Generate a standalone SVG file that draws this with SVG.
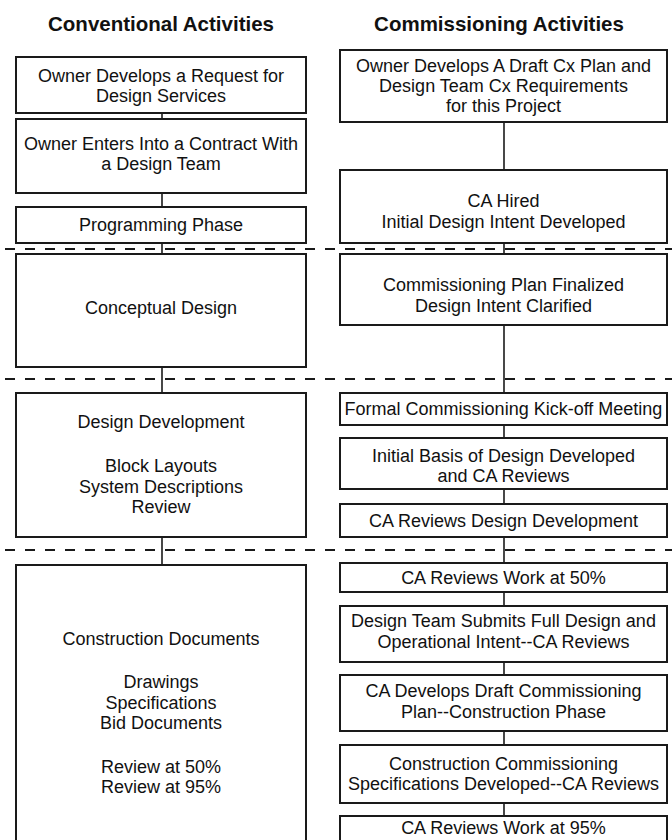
<svg xmlns="http://www.w3.org/2000/svg" width="672" height="840" viewBox="0 0 672 840">
<style>
  .bg{fill:#ffffff}
  rect.box{fill:#ffffff;stroke:#1a1a1a;stroke-width:2}
  text{font-family:"Liberation Sans",Arial,Helvetica,sans-serif;font-size:18px;fill:#111;text-anchor:middle}
  text.head{font-weight:bold;font-size:20.5px}
  .conn line{stroke:#1a1a1a;stroke-width:1.6}
  .dash line{stroke:#1a1a1a;stroke-width:2;stroke-dasharray:10 10}
</style>
<rect class="bg" x="0" y="0" width="672" height="840"/>

<g id="headers">
  <text class="head" x="161" y="31">Conventional Activities</text>
  <text class="head" x="499" y="31">Commissioning Activities</text>
</g>

<g id="phase-dividers" class="dash">
  <line x1="5" y1="249" x2="672" y2="249"/>
  <line x1="5" y1="379" x2="672" y2="379"/>
  <line x1="5" y1="550" x2="672" y2="550"/>
</g>

<g id="connectors" class="conn">
  <line x1="162" y1="113" x2="162" y2="119"/>
  <line x1="162" y1="193" x2="162" y2="207"/>
  <line x1="162" y1="243" x2="162" y2="254"/>
  <line x1="162" y1="367" x2="162" y2="393"/>
  <line x1="162" y1="537" x2="162" y2="565"/>
  <line x1="504" y1="122" x2="504" y2="170"/>
  <line x1="504" y1="243" x2="504" y2="254"/>
  <line x1="504" y1="325" x2="504" y2="393"/>
  <line x1="504" y1="425" x2="504" y2="438"/>
  <line x1="504" y1="489" x2="504" y2="504"/>
  <line x1="504" y1="537" x2="504" y2="563"/>
  <line x1="504" y1="592" x2="504" y2="606"/>
  <line x1="504" y1="662" x2="504" y2="675"/>
  <line x1="504" y1="731" x2="504" y2="745"/>
  <line x1="504" y1="803" x2="504" y2="816"/>
</g>

<!-- Conventional column -->
<g id="conv-rfp">
  <rect class="box" x="16" y="57" width="290" height="56"/>
  <text x="161" y="82">Owner Develops a Request for</text>
  <text x="161" y="102">Design Services</text>
</g>
<g id="conv-contract">
  <rect class="box" x="16" y="119" width="290" height="74"/>
  <text x="161" y="150">Owner Enters Into a Contract With</text>
  <text x="161" y="170">a Design Team</text>
</g>
<g id="conv-programming">
  <rect class="box" x="16" y="207" width="290" height="36"/>
  <text x="161" y="231">Programming Phase</text>
</g>
<g id="conv-conceptual">
  <rect class="box" x="16" y="254" width="290" height="113"/>
  <text x="161" y="314">Conceptual Design</text>
</g>
<g id="conv-dd">
  <rect class="box" x="16" y="393" width="290" height="144"/>
  <text x="161" y="428">Design Development</text>
  <text x="161" y="472">Block Layouts</text>
  <text x="161" y="492.5">System Descriptions</text>
  <text x="161" y="513">Review</text>
</g>
<g id="conv-cd">
  <rect class="box" x="16" y="565" width="290" height="290"/>
  <text x="161" y="645">Construction Documents</text>
  <text x="161" y="688">Drawings</text>
  <text x="161" y="708.5">Specifications</text>
  <text x="161" y="729">Bid Documents</text>
  <text x="161" y="772.5">Review at 50%</text>
  <text x="161" y="793">Review at 95%</text>
</g>

<!-- Commissioning column -->
<g id="cx-draft-plan">
  <rect class="box" x="340" y="50" width="327" height="72"/>
  <text x="503.5" y="72">Owner Develops A Draft Cx Plan and</text>
  <text x="503.5" y="92">Design Team Cx Requirements</text>
  <text x="503.5" y="111.5">for this Project</text>
</g>
<g id="cx-ca-hired">
  <rect class="box" x="340" y="170" width="327" height="73"/>
  <text x="503.5" y="207">CA Hired</text>
  <text x="503.5" y="228">Initial Design Intent Developed</text>
</g>
<g id="cx-plan-finalized">
  <rect class="box" x="340" y="254" width="327" height="71"/>
  <text x="503.5" y="291">Commissioning Plan Finalized</text>
  <text x="503.5" y="312">Design Intent Clarified</text>
</g>
<g id="cx-kickoff">
  <rect class="box" x="340" y="393" width="327" height="32"/>
  <text x="503.5" y="415">Formal Commissioning Kick-off Meeting</text>
</g>
<g id="cx-basis">
  <rect class="box" x="340" y="438" width="327" height="51"/>
  <text x="503.5" y="462">Initial Basis of Design Developed</text>
  <text x="503.5" y="482">and CA Reviews</text>
</g>
<g id="cx-review-dd">
  <rect class="box" x="340" y="504" width="327" height="33"/>
  <text x="503.5" y="527">CA Reviews Design Development</text>
</g>
<g id="cx-review-50">
  <rect class="box" x="340" y="563" width="327" height="29"/>
  <text x="503.5" y="583.5">CA Reviews Work at 50%</text>
</g>
<g id="cx-full-design">
  <rect class="box" x="340" y="606" width="327" height="56"/>
  <text x="503.5" y="627">Design Team Submits Full Design and</text>
  <text x="503.5" y="648">Operational Intent--CA Reviews</text>
</g>
<g id="cx-draft-construction">
  <rect class="box" x="340" y="675" width="327" height="56"/>
  <text x="503.5" y="697">CA Develops Draft Commissioning</text>
  <text x="503.5" y="718">Plan--Construction Phase</text>
</g>
<g id="cx-specs">
  <rect class="box" x="340" y="745" width="327" height="58"/>
  <text x="503.5" y="769.5">Construction Commissioning</text>
  <text x="503.5" y="790">Specifications Developed--CA Reviews</text>
</g>
<g id="cx-review-95">
  <rect class="box" x="340" y="816" width="327" height="40"/>
  <text x="503.5" y="834">CA Reviews Work at 95%</text>
</g>
</svg>
